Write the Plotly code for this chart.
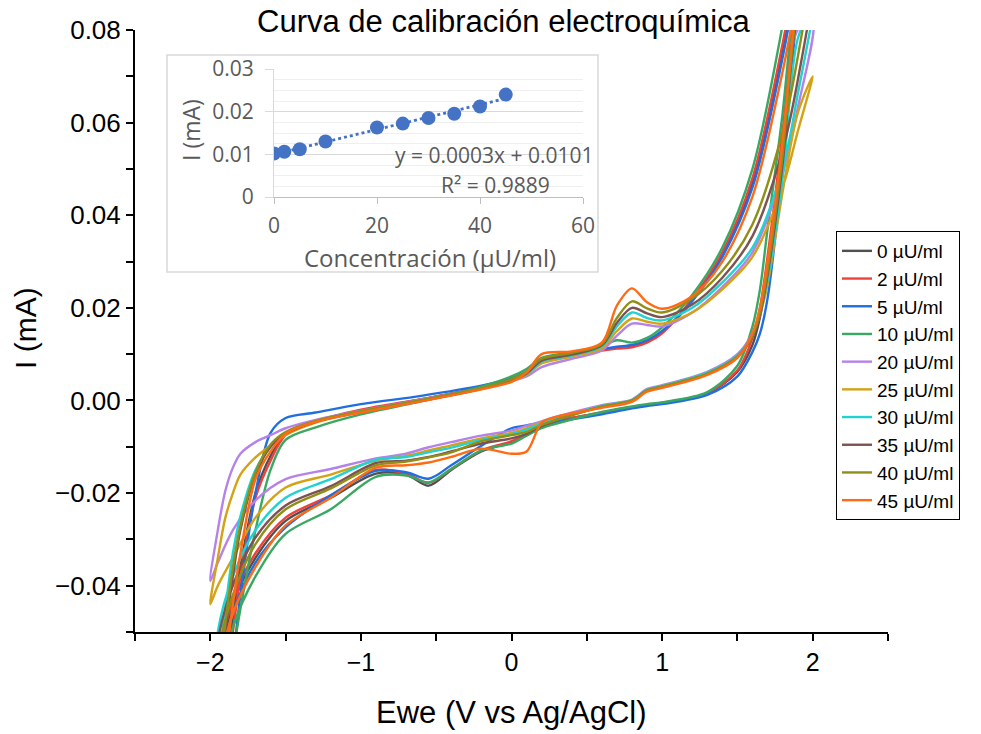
import plotly.graph_objects as go
import numpy as np

# ---------------- main chart data (cyclic voltammograms) ----------------
E_FWD = [-2.0, -1.95, -1.9, -1.85, -1.8, -1.7, -1.6, -1.5, -1.3, -1.0, -0.6, -0.2, 0.0, 0.1, 0.2,
         0.4, 0.6, 0.7, 0.8, 0.9, 1.0, 1.2, 1.4, 1.6, 1.8, 1.9, 2.0]
E_REV = [2.0, 1.9, 1.8, 1.7, 1.65, 1.6, 1.5, 1.3, 1.0, 0.9, 0.8, 0.6, 0.3, 0.2, 0.1, 0.0, -0.2,
         -0.4, -0.55, -0.7, -0.9, -1.2, -1.5, -1.7, -1.85, -1.95, -2.0]

LABELS = ["0 µU/ml", "2 µU/ml", "5 µU/ml", "10 µU/ml", "20 µU/ml",
          "25 µU/ml", "30 µU/ml", "35 µU/ml", "40 µU/ml", "45 µU/ml"]
COLORS = ["#505050", "#f0403c", "#1f6fe3", "#3aa862", "#b582e8",
          "#d4a216", "#20d2d2", "#7d5252", "#8f8f18", "#ff6a14"]

I_FWD_0 = [-0.085, -0.072, -0.060, -0.047, -0.036, -0.020, -0.0120, -0.0072, -0.0045, -0.0022, 0.0002, 0.0028, 0.0045, 0.0060, 0.0088, 0.0100, 0.0110, 0.0114, 0.0118, 0.0128, 0.0148, 0.0215, 0.0315, 0.047, 0.076, 0.094, 0.112]
I_REV_0 = [0.112, 0.088, 0.055, 0.028, 0.018, 0.012, 0.0062, 0.0015, -0.0006, -0.0010, -0.0015, -0.0027, -0.0045, -0.0058, -0.0075, -0.0090, -0.0110, -0.0150, -0.0184, -0.0160, -0.0158, -0.0210, -0.0260, -0.034, -0.044, -0.060, -0.085]

I_FWD_2 = [-0.088, -0.075, -0.062, -0.050, -0.038, -0.021, -0.0130, -0.0075, -0.0045, -0.0020, 0.0003, 0.0027, 0.0043, 0.0058, 0.0086, 0.0098, 0.0108, 0.0112, 0.0115, 0.0125, 0.0145, 0.0220, 0.032, 0.048, 0.077, 0.095, 0.115]
I_REV_2 = [0.115, 0.090, 0.058, 0.031, 0.020, 0.0135, 0.0065, 0.0016, -0.0005, -0.0010, -0.0014, -0.0026, -0.0044, -0.0055, -0.0072, -0.0088, -0.0108, -0.0148, -0.0178, -0.0158, -0.0150, -0.0205, -0.0253, -0.033, -0.043, -0.058, -0.088]

I_FWD_5 = [-0.095, -0.080, -0.068, -0.056, -0.042, -0.020, -0.0070, -0.0038, -0.0026, -0.0008, 0.0010, 0.0032, 0.0048, 0.0062, 0.0090, 0.0102, 0.0111, 0.0116, 0.0120, 0.0130, 0.0150, 0.0215, 0.031, 0.046, 0.074, 0.092, 0.110]
I_REV_5 = [0.110, 0.085, 0.050, 0.022, 0.0145, 0.0105, 0.0052, 0.0012, -0.0008, -0.0012, -0.0017, -0.0030, -0.0045, -0.0048, -0.0054, -0.0060, -0.0098, -0.0140, -0.0169, -0.0155, -0.0152, -0.0205, -0.0274, -0.035, -0.046, -0.062, -0.095]

I_FWD_10 = [-0.090, -0.078, -0.066, -0.055, -0.045, -0.028, -0.0150, -0.0085, -0.0058, -0.0030, -0.0002, 0.0030, 0.0052, 0.0068, 0.0092, 0.0104, 0.0118, 0.0130, 0.0125, 0.0135, 0.0158, 0.0228, 0.033, 0.050, 0.081, 0.100, 0.120]
I_REV_10 = [0.120, 0.095, 0.062, 0.037, 0.024, 0.016, 0.0075, 0.0018, -0.0004, -0.0008, -0.0013, -0.0025, -0.0050, -0.0060, -0.0076, -0.0093, -0.0108, -0.0148, -0.0177, -0.0162, -0.0165, -0.0235, -0.0288, -0.038, -0.049, -0.065, -0.090]

I_FWD_20 = [-0.039, -0.028, -0.0195, -0.0145, -0.0115, -0.0090, -0.0075, -0.0060, -0.0042, -0.0022, 0.0002, 0.0026, 0.0042, 0.0052, 0.0072, 0.0090, 0.0108, 0.0140, 0.0166, 0.0163, 0.0160, 0.0190, 0.0245, 0.032, 0.049, 0.063, 0.082]
I_REV_20 = [0.082, 0.080, 0.050, 0.027, 0.019, 0.0145, 0.0100, 0.0062, 0.0033, 0.0025, 0.0002, -0.0010, -0.0035, -0.0045, -0.0055, -0.0065, -0.0076, -0.0090, -0.0101, -0.0115, -0.0125, -0.0148, -0.0170, -0.0216, -0.028, -0.035, -0.039]

I_FWD_25 = [-0.044, -0.034, -0.0253, -0.020, -0.016, -0.0123, -0.0097, -0.0075, -0.0048, -0.0024, 0.0000, 0.0025, 0.0042, 0.0055, 0.0080, 0.0095, 0.0113, 0.0150, 0.0177, 0.0170, 0.0166, 0.0190, 0.0240, 0.031, 0.046, 0.058, 0.070]
I_REV_25 = [0.070, 0.062, 0.045, 0.025, 0.0185, 0.014, 0.0093, 0.0058, 0.0030, 0.0022, 0.0000, -0.0013, -0.0038, -0.0048, -0.0060, -0.0070, -0.0082, -0.0097, -0.0108, -0.0120, -0.0130, -0.0160, -0.0188, -0.0253, -0.034, -0.040, -0.044]

I_FWD_30 = [-0.075, -0.058, -0.045, -0.033, -0.025, -0.015, -0.0100, -0.0070, -0.0046, -0.0024, 0.0000, 0.0026, 0.0044, 0.0057, 0.0084, 0.0097, 0.0117, 0.0160, 0.0190, 0.0178, 0.0173, 0.0200, 0.0255, 0.033, 0.050, 0.066, 0.085]
I_REV_30 = [0.085, 0.078, 0.048, 0.026, 0.019, 0.0142, 0.0097, 0.0060, 0.0031, 0.0023, 0.0001, -0.0012, -0.0040, -0.0050, -0.0063, -0.0073, -0.0085, -0.0102, -0.0112, -0.0122, -0.0128, -0.0170, -0.0210, -0.028, -0.038, -0.050, -0.075]

I_FWD_35 = [-0.080, -0.064, -0.050, -0.038, -0.028, -0.016, -0.0100, -0.0072, -0.0046, -0.0025, -0.0001, 0.0025, 0.0043, 0.0058, 0.0086, 0.0099, 0.0119, 0.0168, 0.0200, 0.0188, 0.0180, 0.0207, 0.0265, 0.0355, 0.054, 0.069, 0.090]
I_REV_35 = [0.090, 0.083, 0.051, 0.027, 0.0185, 0.0138, 0.0094, 0.0057, 0.0029, 0.0021, -0.0001, -0.0014, -0.0042, -0.0055, -0.0072, -0.0082, -0.0093, -0.0110, -0.0122, -0.0130, -0.0135, -0.0185, -0.0227, -0.0296, -0.040, -0.052, -0.080]

I_FWD_40 = [-0.078, -0.062, -0.048, -0.036, -0.027, -0.0155, -0.0095, -0.0068, -0.0044, -0.0023, 0.0001, 0.0027, 0.0046, 0.0062, 0.0090, 0.0103, 0.0122, 0.0178, 0.0214, 0.0199, 0.0190, 0.0220, 0.0280, 0.038, 0.058, 0.074, 0.095]
I_REV_40 = [0.095, 0.085, 0.053, 0.028, 0.019, 0.014, 0.0095, 0.0058, 0.0030, 0.0022, 0.0000, -0.0013, -0.0042, -0.0053, -0.0068, -0.0075, -0.0088, -0.0112, -0.0123, -0.0132, -0.0140, -0.0190, -0.0235, -0.031, -0.042, -0.055, -0.078]

I_FWD_45 = [-0.085, -0.070, -0.057, -0.044, -0.033, -0.017, -0.0110, -0.0072, -0.0046, -0.0026, -0.0002, 0.0024, 0.0040, 0.0060, 0.0100, 0.0106, 0.0125, 0.0205, 0.0242, 0.0212, 0.0198, 0.0225, 0.0300, 0.044, 0.071, 0.088, 0.105]
I_REV_45 = [0.105, 0.088, 0.056, 0.030, 0.020, 0.0145, 0.0092, 0.0055, 0.0027, 0.0019, -0.0003, -0.0016, -0.0035, -0.0048, -0.0110, -0.0115, -0.0104, -0.0122, -0.0134, -0.0140, -0.0145, -0.0210, -0.0270, -0.036, -0.046, -0.060, -0.085]

FWD = [I_FWD_0, I_FWD_2, I_FWD_5, I_FWD_10, I_FWD_20, I_FWD_25, I_FWD_30, I_FWD_35, I_FWD_40, I_FWD_45]
REV = [I_REV_0, I_REV_2, I_REV_5, I_REV_10, I_REV_20, I_REV_25, I_REV_30, I_REV_35, I_REV_40, I_REV_45]

# ---------------- inset data (calibration) ----------------
CONC = [0, 2, 5, 10, 20, 25, 30, 35, 40, 45]
I_PEAK = [0.0102, 0.0106, 0.0112, 0.0130, 0.0163, 0.0172, 0.0185, 0.0195, 0.0212, 0.0240]
EQ_TEXT = "y = 0.0003x + 0.0101"
R2_TEXT = "R² = 0.9889"

MAIN_FONT = "Liberation Sans, Arial, sans-serif"
INSET_FONT = "Open Sans, Noto Sans, sans-serif"
GREY = "#595959"

fig = go.Figure()

for lab, col, f, r in zip(LABELS, COLORS, FWD, REV):
    fig.add_trace(go.Scatter(
        x=E_FWD + E_REV[1:], y=f + r[1:], mode="lines", name=lab,
        line=dict(color=col, width=2.4, shape="spline", smoothing=0.9),
        xaxis="x", yaxis="y"))

# inset scatter + trendline
coef = np.polyfit(CONC, I_PEAK, 1)
tx = [min(CONC), max(CONC)]
ty = [coef[0] * v + coef[1] for v in tx]
fig.add_trace(go.Scatter(x=tx, y=ty, mode="lines", showlegend=False,
                         line=dict(color="#4472C4", width=2.8, dash="dot"),
                         xaxis="x2", yaxis="y2"))
fig.add_trace(go.Scatter(x=CONC, y=I_PEAK, mode="markers", showlegend=False,
                         marker=dict(color="#4472C4", size=14),
                         xaxis="x2", yaxis="y2"))

W, H = 981, 734
L, R, T, B = 135, 93, 30, 102
PW, PH = W - L - R, H - T - B


def px(xp):
    return (xp - L) / PW


def py(yp):
    return (H - B - yp) / PH


fig.update_layout(
    width=W, height=H,
    margin=dict(l=L, r=R, t=T, b=B),
    paper_bgcolor="white", plot_bgcolor="rgba(0,0,0,0)",
    font=dict(family=MAIN_FONT, color="black"),
    showlegend=True,
    legend=dict(x=px(836), y=py(231), xanchor="left", yanchor="top",
                bordercolor="black", borderwidth=1, bgcolor="white",
                font=dict(family=MAIN_FONT, size=19, color="black"),
                tracegroupgap=0, itemwidth=30),
    xaxis=dict(domain=[0, 1], range=[-2.5, 2.5], dtick=1, tick0=0,
               showgrid=False, zeroline=False, showline=True, linecolor="black", linewidth=2,
               ticks="outside", ticklen=7, tickwidth=1.5, tickcolor="black",
               minor=dict(dtick=0.5, ticks="outside", ticklen=7, tickwidth=1.5, tickcolor="black"),
               tickfont=dict(size=25, family=MAIN_FONT, color="black"), anchor="y"),
    yaxis=dict(domain=[0, 1], range=[-0.05, 0.08], dtick=0.02, tick0=0, tickformat=".2f",
               showgrid=False, zeroline=False, showline=True, linecolor="black", linewidth=2,
               ticks="outside", ticklen=7, tickwidth=1.5, tickcolor="black",
               minor=dict(dtick=0.01, ticks="outside", ticklen=7, tickwidth=1.5, tickcolor="black"),
               tickfont=dict(size=26, family=MAIN_FONT, color="black"), anchor="x"),
    xaxis2=dict(domain=[px(274), px(583)], range=[0, 60], dtick=20, anchor="y2",
                showgrid=False, zeroline=False, showline=True, linecolor="#bfbfbf", linewidth=1,
                ticks="outside", ticklen=6, tickcolor="#bfbfbf", ticklabelstandoff=4,
                tickfont=dict(size=21, family=INSET_FONT, color=GREY)),
    yaxis2=dict(domain=[py(197), py(69)], range=[0, 0.03], dtick=0.01, anchor="x2",
                showgrid=True, gridcolor="#d9d9d9", gridwidth=1, zeroline=False,
                showline=True, linecolor="#d9d9d9", linewidth=1,
                ticks="outside", ticklen=8, tickcolor="#d9d9d9", ticklabelstandoff=7,
                minor=dict(dtick=0.0025, showgrid=True, gridcolor="#efefef", gridwidth=1),
                tickfont=dict(size=21, family=INSET_FONT, color=GREY)),
    shapes=[dict(type="rect", xref="paper", yref="paper",
                 x0=px(167), x1=px(598), y0=py(272), y1=py(55),
                 line=dict(color="#d9d9d9", width=1.5), fillcolor="white", layer="below")],
    annotations=[
        dict(text="Curva de calibración electroquímica", xref="paper", yref="paper",
             x=px(504), y=py(22), xanchor="center", yanchor="middle", showarrow=False,
             font=dict(size=31, family=MAIN_FONT, color="black")),
        dict(text="Ewe (V vs Ag/AgCl)", xref="paper", yref="paper",
             x=px(511), y=py(712), xanchor="center", yanchor="middle", showarrow=False,
             font=dict(size=31, family=MAIN_FONT, color="black")),
        dict(text="I (mA)", xref="paper", yref="paper", textangle=-90,
             x=px(25), y=py(328), xanchor="center", yanchor="middle", showarrow=False,
             font=dict(size=30, family=MAIN_FONT, color="black")),
        dict(text="Concentración (µU/ml)", xref="paper", yref="paper",
             x=px(430), y=py(257), xanchor="center", yanchor="middle", showarrow=False,
             font=dict(size=24, family=INSET_FONT, color=GREY)),
        dict(text="I (mA)", xref="paper", yref="paper", textangle=-90,
             x=px(191), y=py(130), xanchor="center", yanchor="middle", showarrow=False,
             font=dict(size=23, family=INSET_FONT, color=GREY)),
        dict(text=EQ_TEXT, xref="paper", yref="paper",
             x=px(494), y=py(155), xanchor="center", yanchor="middle", showarrow=False,
             font=dict(size=21, family=INSET_FONT, color=GREY)),
        dict(text=R2_TEXT, xref="paper", yref="paper",
             x=px(495), y=py(185), xanchor="center", yanchor="middle", showarrow=False,
             font=dict(size=21, family=INSET_FONT, color=GREY)),
    ],
)

fig.write_html("out.html")
